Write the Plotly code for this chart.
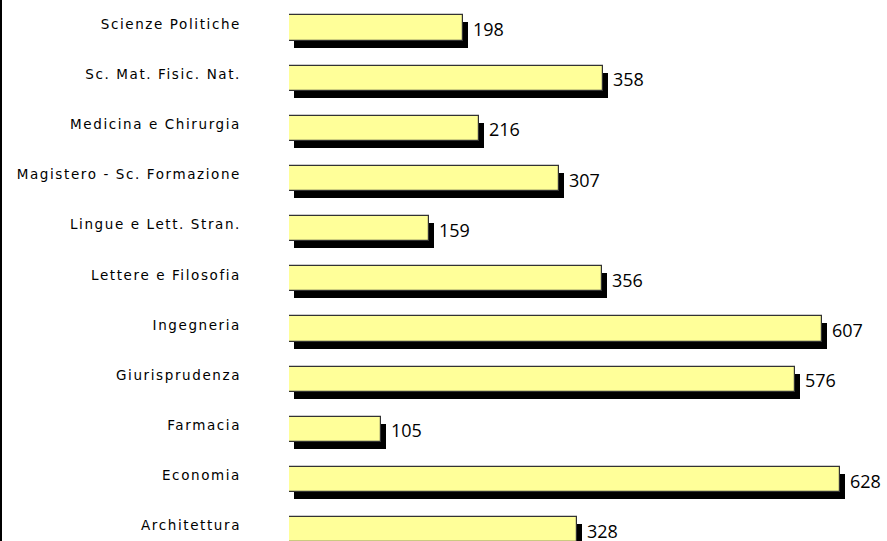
import plotly.graph_objects as go

categories = ["Architettura", "Economia", "Farmacia", "Giurisprudenza", "Ingegneria",
              "Lettere e Filosofia", "Lingue e Lett. Stran.", "Magistero - Sc. Formazione",
              "Medicina e Chirurgia", "Sc. Mat. Fisic. Nat.", "Scienze Politiche"]
values = [328, 628, 105, 576, 607, 356, 159, 307, 216, 358, 198]

W, H = 887, 541
left_px = 289
px_per_unit = 0.878
plot_w = W - left_px
x_max = plot_w / px_per_unit
row_px = 50.17
top_val = (len(categories) - 1) + 28 / row_px
bot_val = top_val - H / row_px

shadow_dx = 5 / px_per_unit
shadow_dy = 7 / row_px
bw = 0.50

fig = go.Figure()
fig.add_trace(go.Bar(
    y=categories, x=values, base=[shadow_dx] * len(values), orientation="h",
    width=bw, offset=-bw / 2 - shadow_dy,
    marker=dict(color="black", line=dict(width=0)), hoverinfo="skip", showlegend=False,
))
fig.add_trace(go.Bar(
    y=categories, x=values, orientation="h",
    width=bw, offset=-bw / 2,
    marker=dict(color="#FFFF99", line=dict(color="#333333", width=1.2)),
    showlegend=False,
))

for c, v in zip(categories, values):
    fig.add_annotation(x=v, y=c, text=str(v), showarrow=False, xanchor="left",
                       xshift=8, yshift=-1,
                       font=dict(family="Open Sans", size=18, color="black"))

fig.add_shape(type="line", xref="paper", yref="paper", x0=1 / W, x1=1 / W, y0=0, y1=1,
              line=dict(color="black", width=2))

fig.update_layout(
    width=W, height=H, margin=dict(l=0, r=0, t=0, b=0),
    plot_bgcolor="white", paper_bgcolor="white",
    barmode="overlay", bargap=0,
    xaxis=dict(domain=[left_px / W, 1], range=[0, x_max], visible=False),
    yaxis=dict(type="category", categoryorder="array", categoryarray=categories,
               range=[bot_val, top_val], showgrid=False, ticks="", showline=False,
               zeroline=False, ticklabelstandoff=47, ticklabelshift=-4,
               tickfont=dict(family="DejaVu Sans", size=13.5, color="black")),
)

post = """
document.body.style.margin = '0';
document.body.style.padding = '0';
function spaceLabels() {
  document.querySelectorAll('.ytick text').forEach(function (t) {
    t.style.letterSpacing = '1.6px';
  });
}
spaceLabels();
setTimeout(spaceLabels, 50);
"""
fig.write_html("out.html", post_script=post, config={"displayModeBar": False})
